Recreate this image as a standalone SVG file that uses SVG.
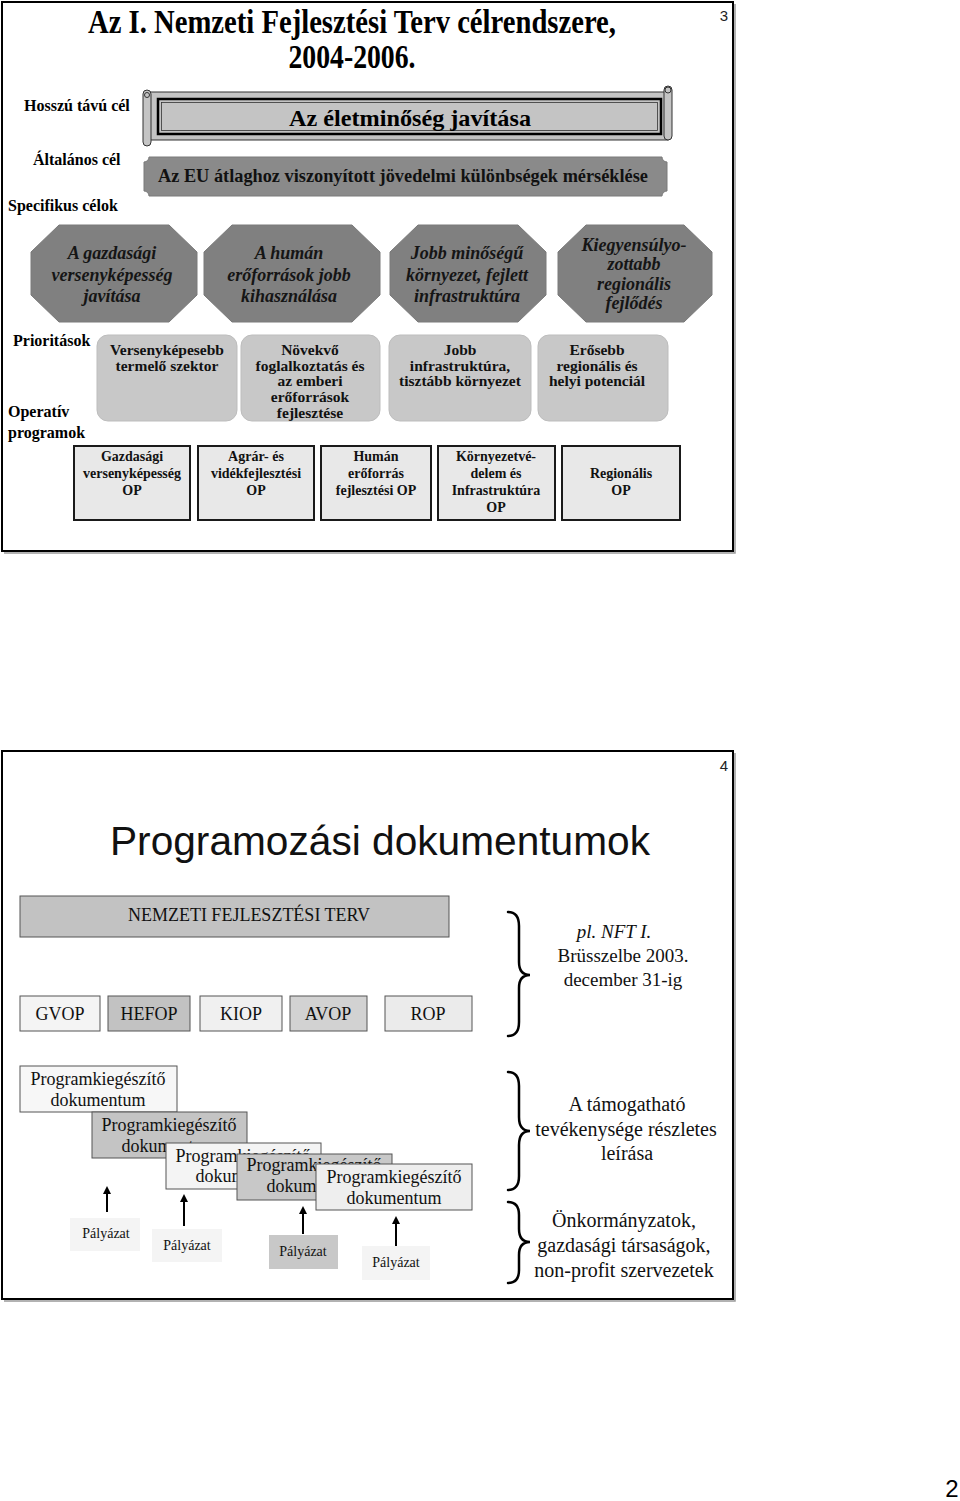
<svg xmlns="http://www.w3.org/2000/svg" width="960" height="1501" viewBox="0 0 960 1501">
<style>
.serif{font-family:"Liberation Serif","Times New Roman",serif;}
.sans{font-family:"Liberation Sans",Arial,sans-serif;}
.b{font-weight:bold;}
.i{font-style:italic;}
.c{text-anchor:middle;}
.lbl{font-family:"Liberation Serif","Times New Roman",serif;font-weight:bold;font-size:16px;fill:#000;}
.oct{fill:#808080;stroke:#7a7a7a;stroke-width:1;}
.octt{font-family:"Liberation Serif","Times New Roman",serif;font-weight:bold;font-style:italic;font-size:18px;fill:#151515;text-anchor:middle;}
.prio{fill:#c8c8c8;stroke:#bdbdbd;stroke-width:1;}
.priot{font-family:"Liberation Serif","Times New Roman",serif;font-weight:bold;font-size:15.5px;fill:#111;text-anchor:middle;}
.op{fill:#e8e8e8;stroke:#1a1a1a;stroke-width:2;}
.opt{font-family:"Liberation Serif","Times New Roman",serif;font-weight:bold;font-size:14px;fill:#111;text-anchor:middle;}
.frame{fill:none;stroke:#000;stroke-width:2;}
.shadow{fill:none;stroke:#999;stroke-width:1.5;}
.box{stroke:#555;stroke-width:1;}
.t18{font-family:"Liberation Serif","Times New Roman",serif;font-size:18px;fill:#111;text-anchor:middle;}
.t19{font-family:"Liberation Serif","Times New Roman",serif;font-size:19px;fill:#111;text-anchor:middle;}
.t20{font-family:"Liberation Serif","Times New Roman",serif;font-size:20px;fill:#111;text-anchor:middle;}
.paly{font-family:"Liberation Serif","Times New Roman",serif;font-size:14px;fill:#111;text-anchor:middle;}
.brace{fill:none;stroke:#000;stroke-width:2.5;stroke-linecap:round;}
.arr{stroke:#000;stroke-width:2;fill:none;}
</style>
<defs>
<marker id="ah" markerWidth="8" markerHeight="8" refX="4" refY="4" orient="auto" markerUnits="userSpaceOnUse">
<path d="M0,0 L8,4 L0,8 Z" fill="#000"/>
</marker>
</defs>
<rect width="960" height="1501" fill="#fff"/>

<!-- PAGE 1 -->
<g id="page1-frame">
<polyline class="shadow" points="735,4 735,553 4,553"/>
<rect class="frame" x="2" y="2" width="731" height="549"/>
<text class="sans" x="724" y="21" font-size="15" text-anchor="middle" fill="#222">3</text>
</g>
<g id="title1">
<text class="serif b c" x="352" y="33" font-size="34" textLength="528" lengthAdjust="spacingAndGlyphs">Az I. Nemzeti Fejlesztési Terv célrendszere,</text>
<text class="serif b c" x="352" y="68" font-size="34" textLength="127" lengthAdjust="spacingAndGlyphs">2004-2006.</text>
</g>
<g id="labels-left">
<text class="lbl" x="24" y="111">Hosszú távú cél</text>
<text class="lbl" x="33" y="165">Általános cél</text>
<text class="lbl" x="8" y="211">Specifikus célok</text>
<text class="lbl" x="13" y="346" font-size="15">Prioritások</text>
<text class="lbl" x="8" y="417" font-size="14">Operatív</text>
<text class="lbl" x="8" y="438" font-size="14">programok</text>
</g>
<g id="hosszu-cel">
<rect x="148" y="92" width="520" height="48" fill="#c4c4c4" stroke="#333" stroke-width="1"/>
<rect x="143" y="90" width="8" height="56" rx="4" fill="#c4c4c4" stroke="#333" stroke-width="1"/>
<rect x="664" y="86" width="8" height="54" rx="4" fill="#c4c4c4" stroke="#333" stroke-width="1"/>
<circle cx="668" cy="90" r="3" fill="none" stroke="#333" stroke-width="1"/>
<circle cx="147" cy="95" r="2.5" fill="none" stroke="#333" stroke-width="1"/>
<rect x="158" y="99" width="503" height="35" fill="#c4c4c4" stroke="#000" stroke-width="2.5"/>
<rect x="161.5" y="102.5" width="496" height="28" fill="none" stroke="#333" stroke-width="0.8"/>
<text class="serif b c" x="410" y="126" font-size="24" textLength="242" lengthAdjust="spacingAndGlyphs">Az életminőség javítása</text>
</g>
<g id="altalanos-cel">
<path d="M149,157 L662,157 A5,5 0 0 0 667,162 L667,191 A5,5 0 0 0 662,196 L149,196 A5,5 0 0 0 144,191 L144,162 A5,5 0 0 0 149,157 Z" fill="#8a8a8a" stroke="#7a7a7a" stroke-width="1"/>
<text class="serif b c" x="403" y="182" font-size="18" textLength="490" lengthAdjust="spacingAndGlyphs" fill="#111">Az EU átlaghoz viszonyított jövedelmi különbségek mérséklése</text>
</g>
<g id="spec1">
<polygon class="oct" points="59,225 169,225 197,252 197,295 169,322 59,322 31,295 31,252"/>
<text class="octt" x="112" y="259">A gazdasági</text>
<text class="octt" x="112" y="281">versenyképesség</text>
<text class="octt" x="112" y="302">javítása</text>
</g>
<g id="spec2">
<polygon class="oct" points="232,225 352,225 380,252 380,295 352,322 232,322 204,295 204,252"/>
<text class="octt" x="289" y="259">A humán</text>
<text class="octt" x="289" y="281">erőforrások jobb</text>
<text class="octt" x="289" y="302">kihasználása</text>
</g>
<g id="spec3">
<polygon class="oct" points="418,225 518,225 546,252 546,295 518,322 418,322 390,295 390,252"/>
<text class="octt" x="467" y="259">Jobb minőségű</text>
<text class="octt" x="467" y="281">környezet, fejlett</text>
<text class="octt" x="467" y="302">infrastruktúra</text>
</g>
<g id="spec4">
<polygon class="oct" points="586,225 684,225 712,252 712,295 684,322 586,322 558,295 558,252"/>
<text class="octt" x="634" y="251">Kiegyensúlyo-</text>
<text class="octt" x="634" y="270">zottabb</text>
<text class="octt" x="634" y="290">regionális</text>
<text class="octt" x="634" y="309">fejlődés</text>
</g>
<g id="prio1">
<rect class="prio" x="97" y="335" width="140" height="86" rx="11"/>
<text class="priot" x="167" y="355">Versenyképesebb</text>
<text class="priot" x="167" y="371">termelő szektor</text>
</g>
<g id="prio2">
<rect class="prio" x="241" y="335" width="139" height="86" rx="11"/>
<text class="priot" x="310" y="355">Növekvő</text>
<text class="priot" x="310" y="371">foglalkoztatás és</text>
<text class="priot" x="310" y="386">az emberi</text>
<text class="priot" x="310" y="402">erőforrások</text>
<text class="priot" x="310" y="418">fejlesztése</text>
</g>
<g id="prio3">
<rect class="prio" x="389" y="335" width="142" height="86" rx="11"/>
<text class="priot" x="460" y="355">Jobb</text>
<text class="priot" x="460" y="371">infrastruktúra,</text>
<text class="priot" x="460" y="386">tisztább környezet</text>
</g>
<g id="prio4">
<rect class="prio" x="538" y="335" width="130" height="86" rx="11"/>
<text class="priot" x="597" y="355">Erősebb</text>
<text class="priot" x="597" y="371">regionális és</text>
<text class="priot" x="597" y="386">helyi potenciál</text>
</g>
<g id="op1">
<rect class="op" x="74" y="446" width="116" height="74"/>
<text class="opt" x="132" y="461">Gazdasági</text>
<text class="opt" x="132" y="478">versenyképesség</text>
<text class="opt" x="132" y="495">OP</text>
</g>
<g id="op2">
<rect class="op" x="198" y="446" width="116" height="74"/>
<text class="opt" x="256" y="461">Agrár- és</text>
<text class="opt" x="256" y="478">vidékfejlesztési</text>
<text class="opt" x="256" y="495">OP</text>
</g>
<g id="op3">
<rect class="op" x="321" y="446" width="110" height="74"/>
<text class="opt" x="376" y="461">Humán</text>
<text class="opt" x="376" y="478">erőforrás</text>
<text class="opt" x="376" y="495">fejlesztési OP</text>
</g>
<g id="op4">
<rect class="op" x="438" y="446" width="117" height="74"/>
<text class="opt" x="496" y="461">Környezetvé-</text>
<text class="opt" x="496" y="478">delem és</text>
<text class="opt" x="496" y="495">Infrastruktúra</text>
<text class="opt" x="496" y="512">OP</text>
</g>
<g id="op5">
<rect class="op" x="562" y="446" width="118" height="74"/>
<text class="opt" x="621" y="478">Regionális</text>
<text class="opt" x="621" y="495">OP</text>
</g>

<!-- PAGE 2 -->
<g id="page2-frame">
<polyline class="shadow" points="735,753 735,1301 4,1301"/>
<rect class="frame" x="2" y="751" width="731" height="548"/>
<text class="sans" x="724" y="771" font-size="15" text-anchor="middle" fill="#222">4</text>
</g>
<g id="title2">
<text class="sans" x="380" y="855" font-size="41" text-anchor="middle" textLength="540" lengthAdjust="spacingAndGlyphs" fill="#111">Programozási dokumentumok</text>
</g>
<g id="nft">
<rect class="box" x="20" y="896" width="429" height="41" fill="#c2c2c2" stroke="#777"/>
<text class="t18" x="249" y="921">NEMZETI FEJLESZTÉSI TERV</text>
</g>
<g id="gvop"><rect class="box" x="20" y="996" width="80" height="35" fill="#f4f4f4"/><text class="t18" x="60" y="1020">GVOP</text></g>
<g id="hefop"><rect class="box" x="108" y="996" width="82" height="35" fill="#c2c2c2"/><text class="t18" x="149" y="1020">HEFOP</text></g>
<g id="kiop"><rect class="box" x="200" y="996" width="82" height="35" fill="#f0f0f0"/><text class="t18" x="241" y="1020">KIOP</text></g>
<g id="avop"><rect class="box" x="290" y="996" width="77" height="35" fill="#d2d2d2"/><text class="t18" x="328" y="1020">AVOP</text></g>
<g id="rop"><rect class="box" x="385" y="996" width="87" height="35" fill="#ebebeb"/><text class="t18" x="428" y="1020">ROP</text></g>
<g id="brace1">
<path class="brace" d="M508,912 Q519,912 519,926 L519,962 Q519,975 530,975 Q519,975 519,988 L519,1022 Q519,1036 508,1036"/>
<text class="t19 i" x="614" y="938">pl. NFT I.</text>
<text class="t19" x="623" y="962">Brüsszelbe 2003.</text>
<text class="t19" x="623" y="986">december 31-ig</text>
</g>
<g id="pk1">
<rect class="box" x="20" y="1066" width="157" height="46" fill="#f7f7f7"/>
<text class="t18" x="98" y="1085">Programkiegészítő</text>
<text class="t18" x="98" y="1106">dokumentum</text>
</g>
<g id="pk2">
<rect class="box" x="92" y="1112" width="155" height="46" fill="#c4c4c4"/>
<text class="t18" x="169" y="1131">Programkiegészítő</text>
<text class="t18" x="169" y="1152">dokumentum</text>
</g>
<g id="pk3">
<rect class="box" x="166" y="1143" width="155" height="46" fill="#f4f4f4"/>
<text class="t18" x="243" y="1162">Programkiegészítő</text>
<text class="t18" x="243" y="1182">dokumentum</text>
</g>
<g id="pk4">
<rect class="box" x="237" y="1154" width="155" height="46" fill="#c8c8c8"/>
<text class="t18" x="314" y="1171">Programkiegészítő</text>
<text class="t18" x="314" y="1192">dokumentum</text>
</g>
<g id="pk5">
<rect class="box" x="316" y="1164" width="156" height="46" fill="#eeeeee"/>
<text class="t18" x="394" y="1183">Programkiegészítő</text>
<text class="t18" x="394" y="1204">dokumentum</text>
</g>
<g id="paly1"><rect x="70" y="1218" width="70" height="33" fill="#f4f4f4"/><text class="paly" x="106" y="1238">Pályázat</text></g>
<g id="paly2"><rect x="152" y="1229" width="70" height="33" fill="#f4f4f4"/><text class="paly" x="187" y="1250">Pályázat</text></g>
<g id="paly3"><rect x="269" y="1235" width="69" height="34" fill="#c8c8c8"/><text class="paly" x="303" y="1256">Pályázat</text></g>
<g id="paly4"><rect x="362" y="1246" width="68" height="34" fill="#f4f4f4"/><text class="paly" x="396" y="1267">Pályázat</text></g>
<g id="brace2">
<path class="brace" d="M508,1072 Q519,1072 519,1086 L519,1117 Q519,1131 530,1131 Q519,1131 519,1145 L519,1176 Q519,1190 508,1190"/>
<text class="t20" x="627" y="1111">A támogatható</text>
<text class="t20" x="626" y="1136">tevékenysége részletes</text>
<text class="t20" x="627" y="1160">leírása</text>
</g>
<g id="brace3">
<path class="brace" d="M508,1202 Q519,1202 519,1215 L519,1229 Q519,1242 530,1242 Q519,1242 519,1255 L519,1270 Q519,1283 508,1283"/>
<text class="t20" x="624" y="1227">Önkormányzatok,</text>
<text class="t20" x="624" y="1252">gazdasági társaságok,</text>
<text class="t20" x="624" y="1277">non-profit szervezetek</text>
</g>
<g id="connectors">
<line class="arr" x1="107" y1="1212" x2="107" y2="1190" marker-end="url(#ah)"/>
<line class="arr" x1="184" y1="1226" x2="184" y2="1198" marker-end="url(#ah)"/>
<line class="arr" x1="303" y1="1234" x2="303" y2="1210" marker-end="url(#ah)"/>
<line class="arr" x1="396" y1="1246" x2="396" y2="1220" marker-end="url(#ah)"/>
</g>

<g id="page-number">
<text class="sans" x="952" y="1497" font-size="24" text-anchor="middle" fill="#000">2</text>
</g>
</svg>
